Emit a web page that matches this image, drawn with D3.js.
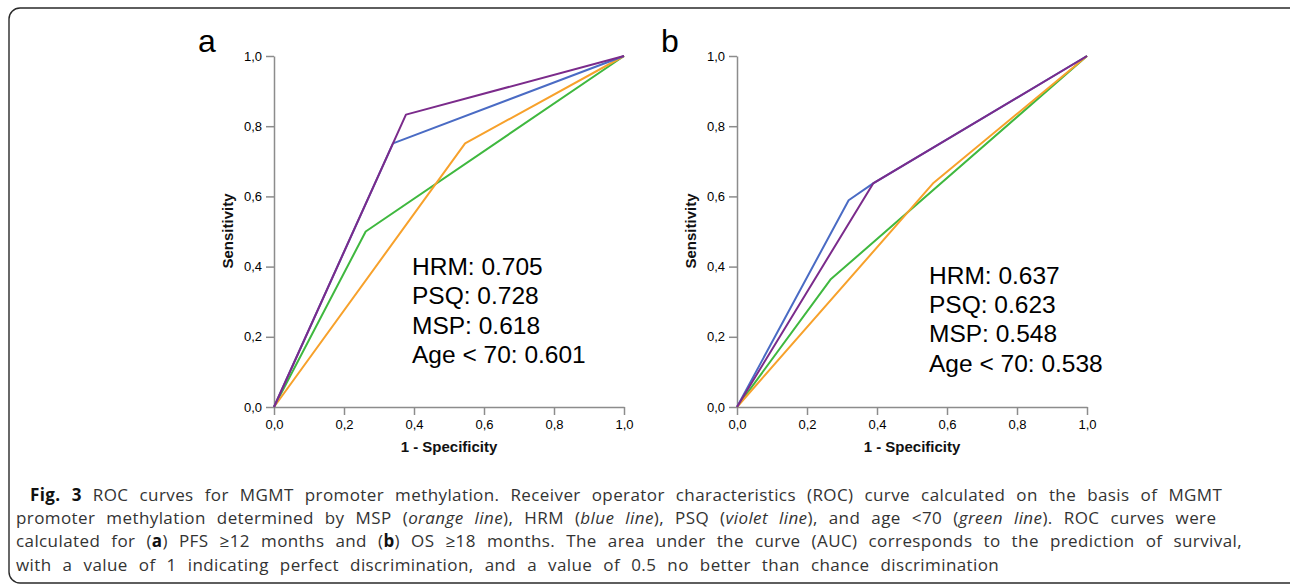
<!DOCTYPE html>
<html>
<head>
<meta charset="utf-8">
<script src="https://cdn.jsdelivr.net/npm/d3@7"></script>
<style>
    body { margin: 0; background: #fff; }
    svg { display: block; }
</style>
</head>
<body>
<svg id="fig" width="1290" height="584"></svg>
<script>
// axis ticks (both panels)
var tickValues = [0, 0.2, 0.4, 0.6, 0.8, 1.0];

// draw order: green, orange, blue, violet
var seriesNames = ["Age < 70", "MSP", "HRM", "PSQ"];

// panel a, PFS >= 12 months : [1 - specificity, sensitivity]
var rocA_age = [[0, 0], [0.262, 0.500], [1, 1]];
var rocA_msp = [[0, 0], [0.546, 0.751], [1, 1]];
var rocA_hrm = [[0, 0], [0.340, 0.751], [1, 1]];
var rocA_psq = [[0, 0], [0.377, 0.833], [1, 1]];
var aucA = ["HRM: 0.705", "PSQ: 0.728", "MSP: 0.618", "Age < 70: 0.601"];

// panel b, OS >= 18 months
var rocB_age = [[0, 0], [0.267, 0.363], [1, 1]];
var rocB_msp = [[0, 0], [0.562, 0.639], [1, 1]];
var rocB_hrm = [[0, 0], [0.319, 0.589], [0.389, 0.637], [1, 1]];
var rocB_psq = [[0, 0], [0.389, 0.637], [1, 1]];
var aucB = ["HRM: 0.637", "PSQ: 0.623", "MSP: 0.548", "Age < 70: 0.538"];

// caption, one array per printed line, [text, style]
var captionLines = [
    [["Fig. 3", "b"], [" ROC curves for MGMT promoter methylation. Receiver operator characteristics (ROC) curve calculated on the basis of MGMT", ""]],
    [["promoter methylation determined by MSP (", ""], ["orange line", "i"], ["), HRM (", ""], ["blue line", "i"], ["), PSQ (", ""], ["violet line", "i"], ["), and age <70 (", ""], ["green line", "i"], ["). ROC curves were", ""]],
    [["calculated for (", ""], ["a", "b"], [") PFS \u226512 months and (", ""], ["b", "b"], [") OS \u226518 months. The area under the curve (AUC) corresponds to the prediction of survival,", ""]],
    [["with a value of 1 indicating perfect discrimination, and a value of 0.5 no better than chance discrimination", ""]]
];
var captionX = [30, 16, 16, 16];

var colors = { "Age < 70": "#3fb83f", "MSP": "#f7a12b", "HRM": "#4a6bc4", "PSQ": "#7b2b8b" };

var svg = d3.select("#fig");

// outer frame, right corners fall outside the picture
svg.append("rect")
    .attr("x", 9).attr("y", 8)
    .attr("width", 1300).attr("height", 575)
    .attr("rx", 11)
    .attr("fill", "none")
    .attr("stroke", "#2a2a2a")
    .attr("stroke-width", 1.4);

var fmt = d3.formatLocale({ decimal: ",", thousands: ".", grouping: [3], currency: ["", ""] }).format(".1f");

function drawPanel(left, letter, series, auc, textX, textY) {
    var x = d3.scaleLinear().domain([0, 1]).range([left, left + 350]);
    var y = d3.scaleLinear().domain([0, 1]).range([407, 56]);
    var g = svg.append("g");

    var xAxis = g.append("g")
        .attr("transform", "translate(0,407)")
        .call(d3.axisBottom(x).tickValues(tickValues).tickFormat(fmt).tickSize(8).tickSizeOuter(0));
    var yAxis = g.append("g")
        .attr("transform", "translate(" + left + ",0)")
        .call(d3.axisLeft(y).tickValues(tickValues).tickFormat(fmt).tickSize(8).tickSizeOuter(0));

    [xAxis, yAxis].forEach(function(a) {
        a.select(".domain").attr("stroke", "#8c8c8c").attr("stroke-width", 1.5);
        a.selectAll(".tick line").attr("stroke", "#8c8c8c").attr("stroke-width", 1.5);
        a.selectAll(".tick text")
            .attr("fill", "#000")
            .style("font-family", "'Liberation Sans', Arial, sans-serif")
            .style("font-size", "13px");
    });
    xAxis.selectAll(".tick text").attr("y", 13);
    yAxis.selectAll(".tick text").attr("x", -12);

    // axis titles
    g.append("text")
        .attr("x", left + 175).attr("y", 452)
        .attr("text-anchor", "middle")
        .style("font-family", "'Liberation Sans', Arial, sans-serif")
        .style("font-weight", "bold").style("font-size", "15px")
        .attr("fill", "#111")
        .text("1 - Specificity");
    g.append("text")
        .attr("transform", "translate(" + (left - 41) + ",231) rotate(-90)")
        .attr("text-anchor", "middle")
        .style("font-family", "'Liberation Sans', Arial, sans-serif")
        .style("font-weight", "bold").style("font-size", "15px")
        .attr("fill", "#111")
        .text("Sensitivity");

    // panel letter
    g.append("text")
        .attr("x", left - 76).attr("y", 52)
        .style("font-family", "'Liberation Sans', Arial, sans-serif")
        .style("font-size", "32px")
        .attr("fill", "#000")
        .text(letter);

    var line = d3.line().x(function(d) { return x(d[0]); }).y(function(d) { return y(d[1]); });
    for (var i = 0; i < seriesNames.length; i++) {
        g.append("path")
            .datum(series[seriesNames[i]])
            .attr("d", line)
            .attr("fill", "none")
            .attr("stroke", colors[seriesNames[i]])
            .attr("stroke-width", 2)
            .attr("stroke-linejoin", "round");
    }

    // AUC values
    g.selectAll(".auc")
        .data(auc)
        .enter()
        .append("text")
        .attr("x", textX)
        .attr("y", function(d, k) { return textY + k * 29.4; })
        .style("font-family", "'Liberation Sans', Arial, sans-serif")
        .style("font-size", "24.5px")
        .attr("fill", "#000")
        .text(function(d) { return d; });
}

drawPanel(274, "a", { "Age < 70": rocA_age, "MSP": rocA_msp, "HRM": rocA_hrm, "PSQ": rocA_psq }, aucA, 412, 275);
drawPanel(737, "b", { "Age < 70": rocB_age, "MSP": rocB_msp, "HRM": rocB_hrm, "PSQ": rocB_psq }, aucB, 929, 283.5);

// caption, ragged right; one word spacing for all lines so that line 3 reaches x=1242
var cap = svg.append("g")
    .style("font-family", "'Open Sans', sans-serif")
    .style("font-size", "17px")
    .style("letter-spacing", "0.4px")
    .attr("fill", "#333");
var capTexts = [];
for (var l = 0; l < captionLines.length; l++) {
    var t = cap.append("text").attr("x", captionX[l]).attr("y", 501 + l * 23.2);
    captionLines[l].forEach(function(seg) {
        var s = t.append("tspan").text(seg[0]);
        if (seg[1] == "b") s.style("font-weight", "bold").attr("fill", "#111");
        if (seg[1] == "i") s.style("font-style", "italic");
    });
    capTexts.push(t);
}
var line3 = captionLines[2].map(function(s) { return s[0]; }).join("");
var ws = (1242 - 16 - capTexts[2].node().getComputedTextLength()) / (line3.split(" ").length - 1);
if (ws > 0) cap.style("word-spacing", ws + "px");
</script>
</body>
</html>
